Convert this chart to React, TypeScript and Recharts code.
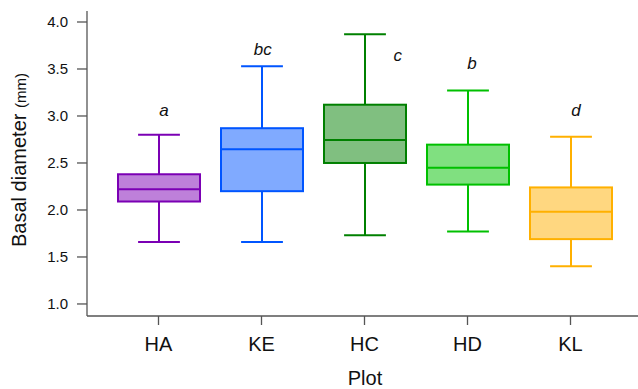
import React from 'react';
import { ComposedChart, Bar, XAxis, YAxis } from 'recharts';

const plots = ['HA', 'KE', 'HC', 'HD', 'KL'];
const lowerWhisker = [1.66, 1.66, 1.73, 1.77, 1.4];
const q1 = [2.09, 2.2, 2.5, 2.27, 1.69];
const medians = [2.22, 2.645, 2.745, 2.45, 1.98];
const q3 = [2.38, 2.87, 3.12, 2.695, 2.24];
const upperWhisker = [2.8, 3.53, 3.87, 3.27, 2.78];
const letters = ['a', 'bc', 'c', 'b', 'd'];
const letterHeights = [3.0, 3.65, 3.58, 3.5, 3.0];
const letterShift = [0.06, 0.01, 0.4, 0.05, 0.06];
const strokeColors = ['#7B00B4', '#0055FF', '#008000', '#00C000', '#FFB000'];
const fillColors = ['#BE80DA', '#80AAFF', '#80BF80', '#80E080', '#FFD780'];
const yTicks = [1.0, 1.5, 2.0, 2.5, 3.0, 3.5, 4.0];

const FONT = 'Liberation Sans, Arial, Helvetica, sans-serif';

const data = plots.map((name, i) => ({
  name,
  box: [q1[i], q3[i]],
  lo: lowerWhisker[i],
  q1: q1[i],
  med: medians[i],
  q3: q3[i],
  hi: upperWhisker[i],
  letter: letters[i],
  letterY: letterHeights[i],
  shift: letterShift[i],
  stroke: strokeColors[i],
  fill: fillColors[i],
}));

const BoxShape = (props: any) => {
  const { x, y, width, height, payload } = props;
  const k = height / (payload.q3 - payload.q1);
  const py = (v: number) => y + (payload.q3 - v) * k;
  const cx = x + width / 2;
  const capHalf = width * 0.255;
  const sw = 2;
  return (
    <g>
      <line x1={cx} x2={cx} y1={py(payload.hi)} y2={py(payload.q3)} stroke={payload.stroke} strokeWidth={sw} />
      <line x1={cx} x2={cx} y1={py(payload.q1)} y2={py(payload.lo)} stroke={payload.stroke} strokeWidth={sw} />
      <line x1={cx - capHalf} x2={cx + capHalf} y1={py(payload.hi)} y2={py(payload.hi)} stroke={payload.stroke} strokeWidth={sw} />
      <line x1={cx - capHalf} x2={cx + capHalf} y1={py(payload.lo)} y2={py(payload.lo)} stroke={payload.stroke} strokeWidth={sw} />
      <rect x={x} y={y} width={width} height={height} fill={payload.fill} stroke={payload.stroke} strokeWidth={sw} />
      <line x1={x} x2={x + width} y1={py(payload.med)} y2={py(payload.med)} stroke={payload.stroke} strokeWidth={sw} />
      <text
        x={cx + payload.shift * width}
        y={py(payload.letterY)}
        textAnchor="middle"
        fontFamily={FONT}
        fontStyle="italic"
        fontSize={17}
        fill="#111"
      >
        {payload.letter}
      </text>
    </g>
  );
};

const YLabel = () => (
  <text
    x={26}
    y={160}
    transform="rotate(-90, 26, 160)"
    textAnchor="middle"
    fontFamily={FONT}
    fill="#111"
  >
    <tspan fontSize={20}>Basal diameter </tspan>
    <tspan fontSize={15}>(mm)</tspan>
  </text>
);

const XLabel = () => (
  <text x={365} y={385} textAnchor="middle" fontFamily={FONT} fontSize={20} fill="#111">
    Plot
  </text>
);

export default function App() {
  return (
    <div style={{ position: 'absolute', left: 0, top: 0, width: 638, height: 389, background: '#fff' }}>
      <ComposedChart
        width={638}
        height={389}
        data={data}
        margin={{ top: 11, right: 0, bottom: 0, left: 0 }}
      >
        <XAxis
          dataKey="name"
          type="category"
          height={73}
          padding={{ left: 20, right: 16 }}
          axisLine={{ stroke: '#555', strokeWidth: 1.3 }}
          tickLine={{ stroke: '#555', strokeWidth: 1.3 }}
          tickSize={9}
          tickMargin={12}
          tick={{ fontSize: 20, fontFamily: FONT, fill: '#111' }}
          interval={0}
          label={{ content: () => <XLabel /> }}
        />
        <YAxis
          type="number"
          domain={[0.872, 4.117]}
          allowDataOverflow
          ticks={yTicks}
          tickFormatter={(v: number) => v.toFixed(1)}
          width={87}
          axisLine={{ stroke: '#555', strokeWidth: 1.3 }}
          tickLine={{ stroke: '#555', strokeWidth: 1.3 }}
          tickSize={10}
          tickMargin={9}
          tick={{ fontSize: 15, fontFamily: FONT, fill: '#111' }}
          label={{ content: () => <YLabel /> }}
        />
        <Bar dataKey="box" barSize={82} shape={<BoxShape />} isAnimationActive={false} />
      </ComposedChart>
    </div>
  );
}
